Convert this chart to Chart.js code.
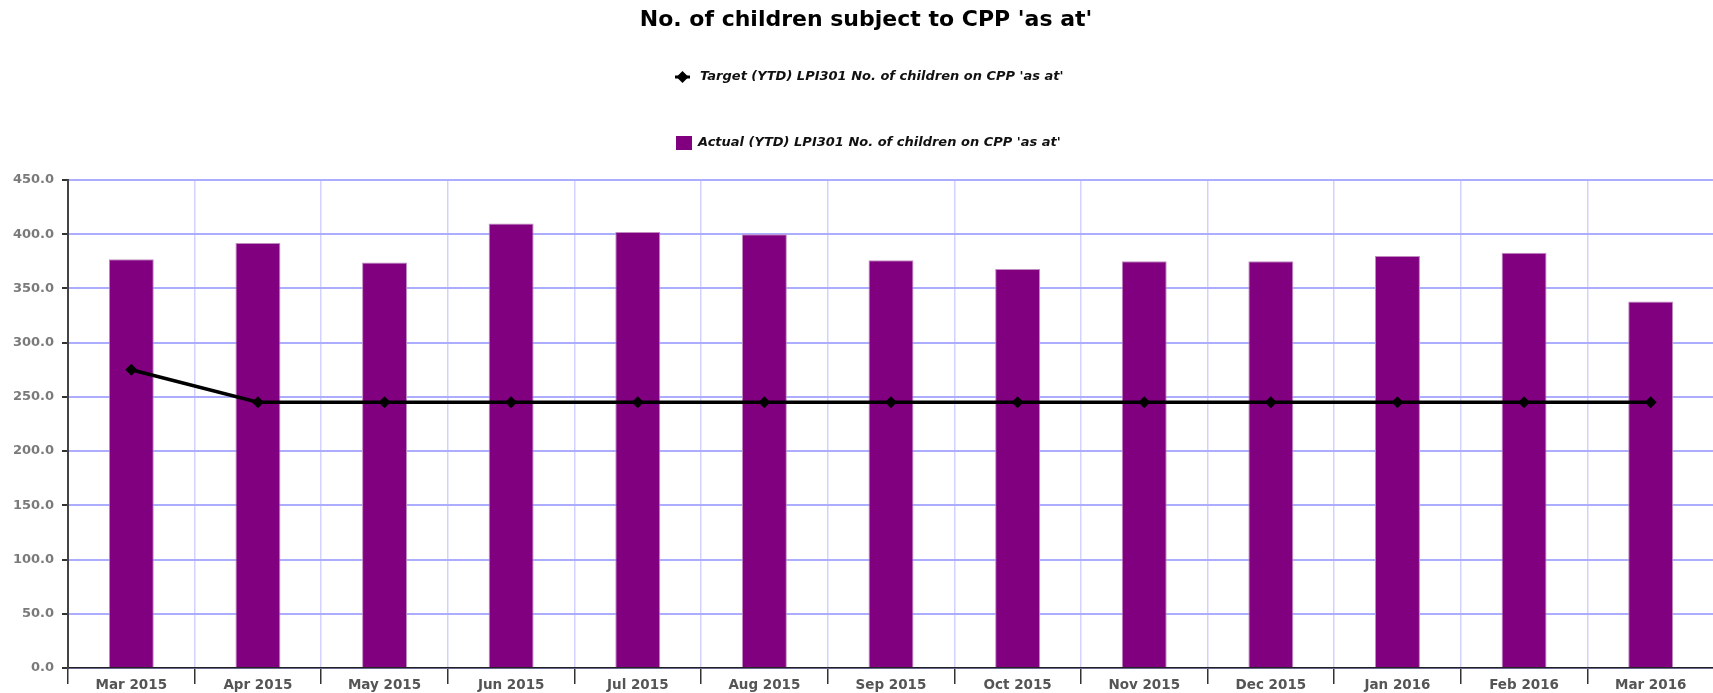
<!DOCTYPE html>
<html>
<head>
<meta charset="utf-8">
<script src="https://cdn.jsdelivr.net/npm/chart.js@4.4.1/dist/chart.umd.min.js"></script>
<style>
  html, body { margin: 0; padding: 0; background: #fff; overflow: hidden; }
  #wrap { position: relative; width: 1720px; height: 693px; }
</style>
</head>
<body>
<div id="wrap"><canvas id="cppChart"></canvas></div>
<script>
const months = ['Mar 2015', 'Apr 2015', 'May 2015', 'Jun 2015', 'Jul 2015', 'Aug 2015', 'Sep 2015',
                'Oct 2015', 'Nov 2015', 'Dec 2015', 'Jan 2016', 'Feb 2016', 'Mar 2016'];
const actualYtd = [377, 392, 374, 410, 402, 400, 376, 368, 375, 375, 380, 383, 338];
const targetYtd = [275, 245, 245, 245, 245, 245, 245, 245, 245, 245, 245, 245, 245];
const yMin = 0, yMax = 450, yStep = 50;

const chartTitle = "No. of children subject to CPP 'as at'";
const targetLabel = "Target (YTD) LPI301 No. of children on CPP 'as at'";
const actualLabel = "Actual (YTD) LPI301 No. of children on CPP 'as at'";

Chart.defaults.font.family = '"DejaVu Sans", Verdana, sans-serif';

// title + legend on two separate rows, like the original
const headerRows = {
    id: 'headerRows',
    afterDraw(chart) {
        const ctx = chart.ctx;
        const sets = chart.data.datasets;
        ctx.save();
        ctx.textBaseline = 'middle';

        ctx.font = 'bold 22px "DejaVu Sans"';
        ctx.textAlign = 'center';
        ctx.fillStyle = '#000';
        ctx.fillText(chartTitle, 866, 20);

        ctx.textAlign = 'left';
        ctx.font = 'italic bold 13px "DejaVu Sans"';

        // line + diamond marker
        const line = sets[0];
        ctx.strokeStyle = line.borderColor;
        ctx.lineWidth = 3;
        ctx.beginPath();
        ctx.moveTo(675, 77);
        ctx.lineTo(690, 77);
        ctx.stroke();
        ctx.fillStyle = line.borderColor;
        ctx.beginPath();
        ctx.moveTo(682.5, 71); ctx.lineTo(688.5, 77); ctx.lineTo(682.5, 83); ctx.lineTo(676.5, 77);
        ctx.closePath();
        ctx.fill();
        ctx.fillStyle = '#111';
        ctx.fillText(line.label, 700, 77);

        const bar = sets[1];
        ctx.fillStyle = bar.backgroundColor;
        ctx.fillRect(676, 136, 16, 14);
        ctx.fillStyle = '#111';
        ctx.fillText(bar.label, 698, 143);
        ctx.restore();
    }
};

new Chart(document.getElementById('cppChart'), {
    data: {
        labels: months,
        datasets: [{
            type: 'line',
            label: targetLabel,
            data: targetYtd,
            borderColor: '#000',
            backgroundColor: '#000',
            borderWidth: 3.5,
            pointStyle: 'rectRot',
            pointRadius: 6,
            pointBackgroundColor: '#000',
            pointBorderWidth: 0,
            tension: 0,
            order: 0
        }, {
            type: 'bar',
            label: actualLabel,
            data: actualYtd,
            backgroundColor: '#800080',
            borderColor: '#c08cc0',
            borderWidth: 1,
            barPercentage: 0.355,
            categoryPercentage: 1,
            order: 1
        }]
    },
    options: {
        responsive: true,
        maintainAspectRatio: false,
        animation: false,
        layout: { padding: { left: 0, right: 0, top: 180, bottom: 0 } },
        plugins: {
            legend: { display: false },
            tooltip: { enabled: false },
            title: { display: false }
        },
        scales: {
            x: {
                offset: true,
                grid: { offset: true, color: '#d2d2ff', lineWidth: 1.5, tickColor: '#333', tickLength: 16, tickWidth: 1.5 },
                border: { color: '#222', width: 1.5 },
                ticks: { color: '#555', font: { size: 13.5, weight: 'bold' }, padding: -7, maxRotation: 0, autoSkip: false },
                afterFit(axis) { axis.height = 25; }
            },
            y: {
                min: yMin,
                max: yMax,
                grid: { color: '#adadff', lineWidth: 2, tickColor: '#333', tickLength: 6 },
                border: { color: '#444', width: 2 },
                ticks: {
                    stepSize: yStep,
                    color: '#7a7a7a',
                    padding: 8,
                    font: { size: 13, weight: 'bold' },
                    callback: v => v.toFixed(1)
                },
                afterFit(axis) { axis.width = 68; }
            }
        }
    },
    plugins: [headerRows]
});
</script>
</body>
</html>
